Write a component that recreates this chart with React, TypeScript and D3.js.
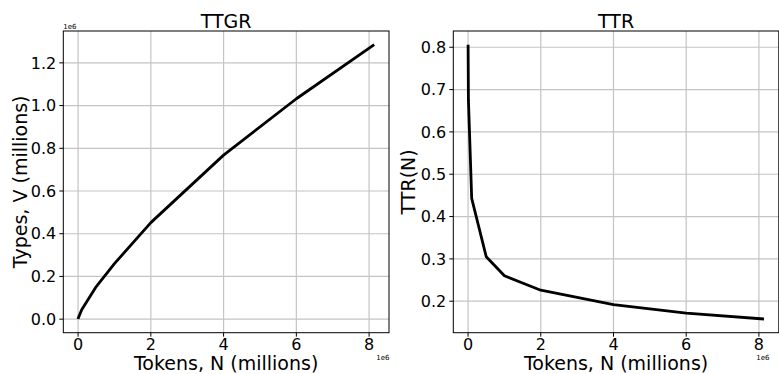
import * as d3 from "d3";
import React, { useEffect, useRef } from "react";

// token counts sampled along the corpus
const tokens = [1000, 10000, 100000, 500000, 1000000, 2000000, 4000000, 6000000, 8140000];
// number of distinct types at each sample
const types = [806, 6750, 44300, 152500, 260000, 452000, 768000, 1032000, 1285000];
// type-token ratio at each sample
const ttr = [0.806, 0.675, 0.443, 0.305, 0.26, 0.226, 0.192, 0.172, 0.158];

const xTicks = [0, 2e6, 4e6, 6e6, 8e6];
const typesTicks = [0, 0.2e6, 0.4e6, 0.6e6, 0.8e6, 1.0e6, 1.2e6];
const ttrTicks = [0.2, 0.3, 0.4, 0.5, 0.6, 0.7, 0.8];

const W = 779;
const H = 374;
const FONT = "DejaVu Sans, sans-serif";

// matplotlib style 5% padding
function padded(values: number[]): [number, number] {
  const [lo, hi] = d3.extent(values) as [number, number];
  const p = (hi - lo) * 0.05;
  return [lo - p, hi + p];
}

export default function App() {
  const svgRef = useRef<SVGSVGElement | null>(null);

  useEffect(() => {
    const svg = d3.select(svgRef.current);
    svg.selectAll("*").remove();

    const top = 31;
    const bottom = 332.7;

    const panel = (opts: {
      left: number;
      right: number;
      ys: number[];
      yTicks: number[];
      yFmt: (v: number) => string;
      title: string;
      yLabel: string;
      yLabelX: number;
      topExp: boolean;
      expX: number;
    }) => {
      const x = d3.scaleLinear().domain(padded(tokens)).range([opts.left, opts.right]);
      const y = d3.scaleLinear().domain(padded(opts.ys)).range([bottom, top]);
      const g = svg.append("g");

      // grid
      g.selectAll(null)
        .data(xTicks)
        .enter()
        .append("line")
        .attr("x1", (d) => x(d))
        .attr("x2", (d) => x(d))
        .attr("y1", top)
        .attr("y2", bottom)
        .attr("stroke", "#c4c4c4")
        .attr("stroke-width", 1.2);
      g.selectAll(null)
        .data(opts.yTicks)
        .enter()
        .append("line")
        .attr("x1", opts.left)
        .attr("x2", opts.right)
        .attr("y1", (d) => y(d))
        .attr("y2", (d) => y(d))
        .attr("stroke", "#c4c4c4")
        .attr("stroke-width", 1.2);

      // the curve
      const line = d3
        .line<number>()
        .x((d, i) => x(tokens[i]))
        .y((d) => y(d));
      g.append("path")
        .datum(opts.ys)
        .attr("fill", "none")
        .attr("stroke", "#000")
        .attr("stroke-width", 2.8)
        .attr("stroke-linejoin", "round")
        .attr("d", line);

      // frame
      g.append("rect")
        .attr("x", opts.left)
        .attr("y", top)
        .attr("width", opts.right - opts.left)
        .attr("height", bottom - top)
        .attr("fill", "none")
        .attr("stroke", "#000")
        .attr("stroke-width", 1);

      // x ticks
      xTicks.forEach((t) => {
        g.append("line")
          .attr("x1", x(t))
          .attr("x2", x(t))
          .attr("y1", bottom)
          .attr("y2", bottom + 4)
          .attr("stroke", "#000");
        g.append("text")
          .attr("x", x(t))
          .attr("y", 350)
          .attr("text-anchor", "middle")
          .attr("font-family", FONT)
          .attr("font-size", 16)
          .text(String(t / 1e6));
      });

      // y ticks
      opts.yTicks.forEach((t) => {
        g.append("line")
          .attr("x1", opts.left - 4)
          .attr("x2", opts.left)
          .attr("y1", y(t))
          .attr("y2", y(t))
          .attr("stroke", "#000");
        g.append("text")
          .attr("x", opts.left - 7)
          .attr("y", y(t))
          .attr("dy", "0.36em")
          .attr("text-anchor", "end")
          .attr("font-family", FONT)
          .attr("font-size", 16)
          .text(opts.yFmt(t));
      });

      const cx = (opts.left + opts.right) / 2;
      g.append("text")
        .attr("x", cx)
        .attr("y", 27.5)
        .attr("text-anchor", "middle")
        .attr("font-family", FONT)
        .attr("font-size", 19)
        .text(opts.title);

      g.append("text")
        .attr("x", cx)
        .attr("y", 370)
        .attr("text-anchor", "middle")
        .attr("font-family", FONT)
        .attr("font-size", 19)
        .text("Tokens, N (millions)");

      g.append("text")
        .attr("transform", `translate(${opts.yLabelX},${(top + bottom) / 2}) rotate(-90)`)
        .attr("text-anchor", "middle")
        .attr("font-family", FONT)
        .attr("font-size", 19)
        .text(opts.yLabel);

      // offset text
      g.append("text")
        .attr("x", opts.expX)
        .attr("y", 360)
        .attr("text-anchor", "end")
        .attr("font-family", FONT)
        .attr("font-size", 7)
        .text("1e6");
      if (opts.topExp) {
        g.append("text")
          .attr("x", opts.left)
          .attr("y", top - 2)
          .attr("font-family", FONT)
          .attr("font-size", 7)
          .text("1e6");
      }
    };

    panel({
      left: 63.3,
      right: 389,
      ys: types,
      yTicks: typesTicks,
      yFmt: (v) => (v / 1e6).toFixed(1),
      title: "TTGR",
      yLabel: "Types, V (millions)",
      yLabelX: 26.5,
      topExp: true,
      expX: 389.5,
    });

    panel({
      left: 453.3,
      right: 778.8,
      ys: ttr,
      yTicks: ttrTicks,
      yFmt: (v) => v.toFixed(1),
      title: "TTR",
      yLabel: "TTR(N)",
      yLabelX: 415,
      topExp: false,
      expX: 769.5,
    });
  }, []);

  return (
    <svg
      ref={svgRef}
      width={W}
      height={H}
      style={{ position: "absolute", left: 0, top: 0, background: "#fff" }}
    />
  );
}
